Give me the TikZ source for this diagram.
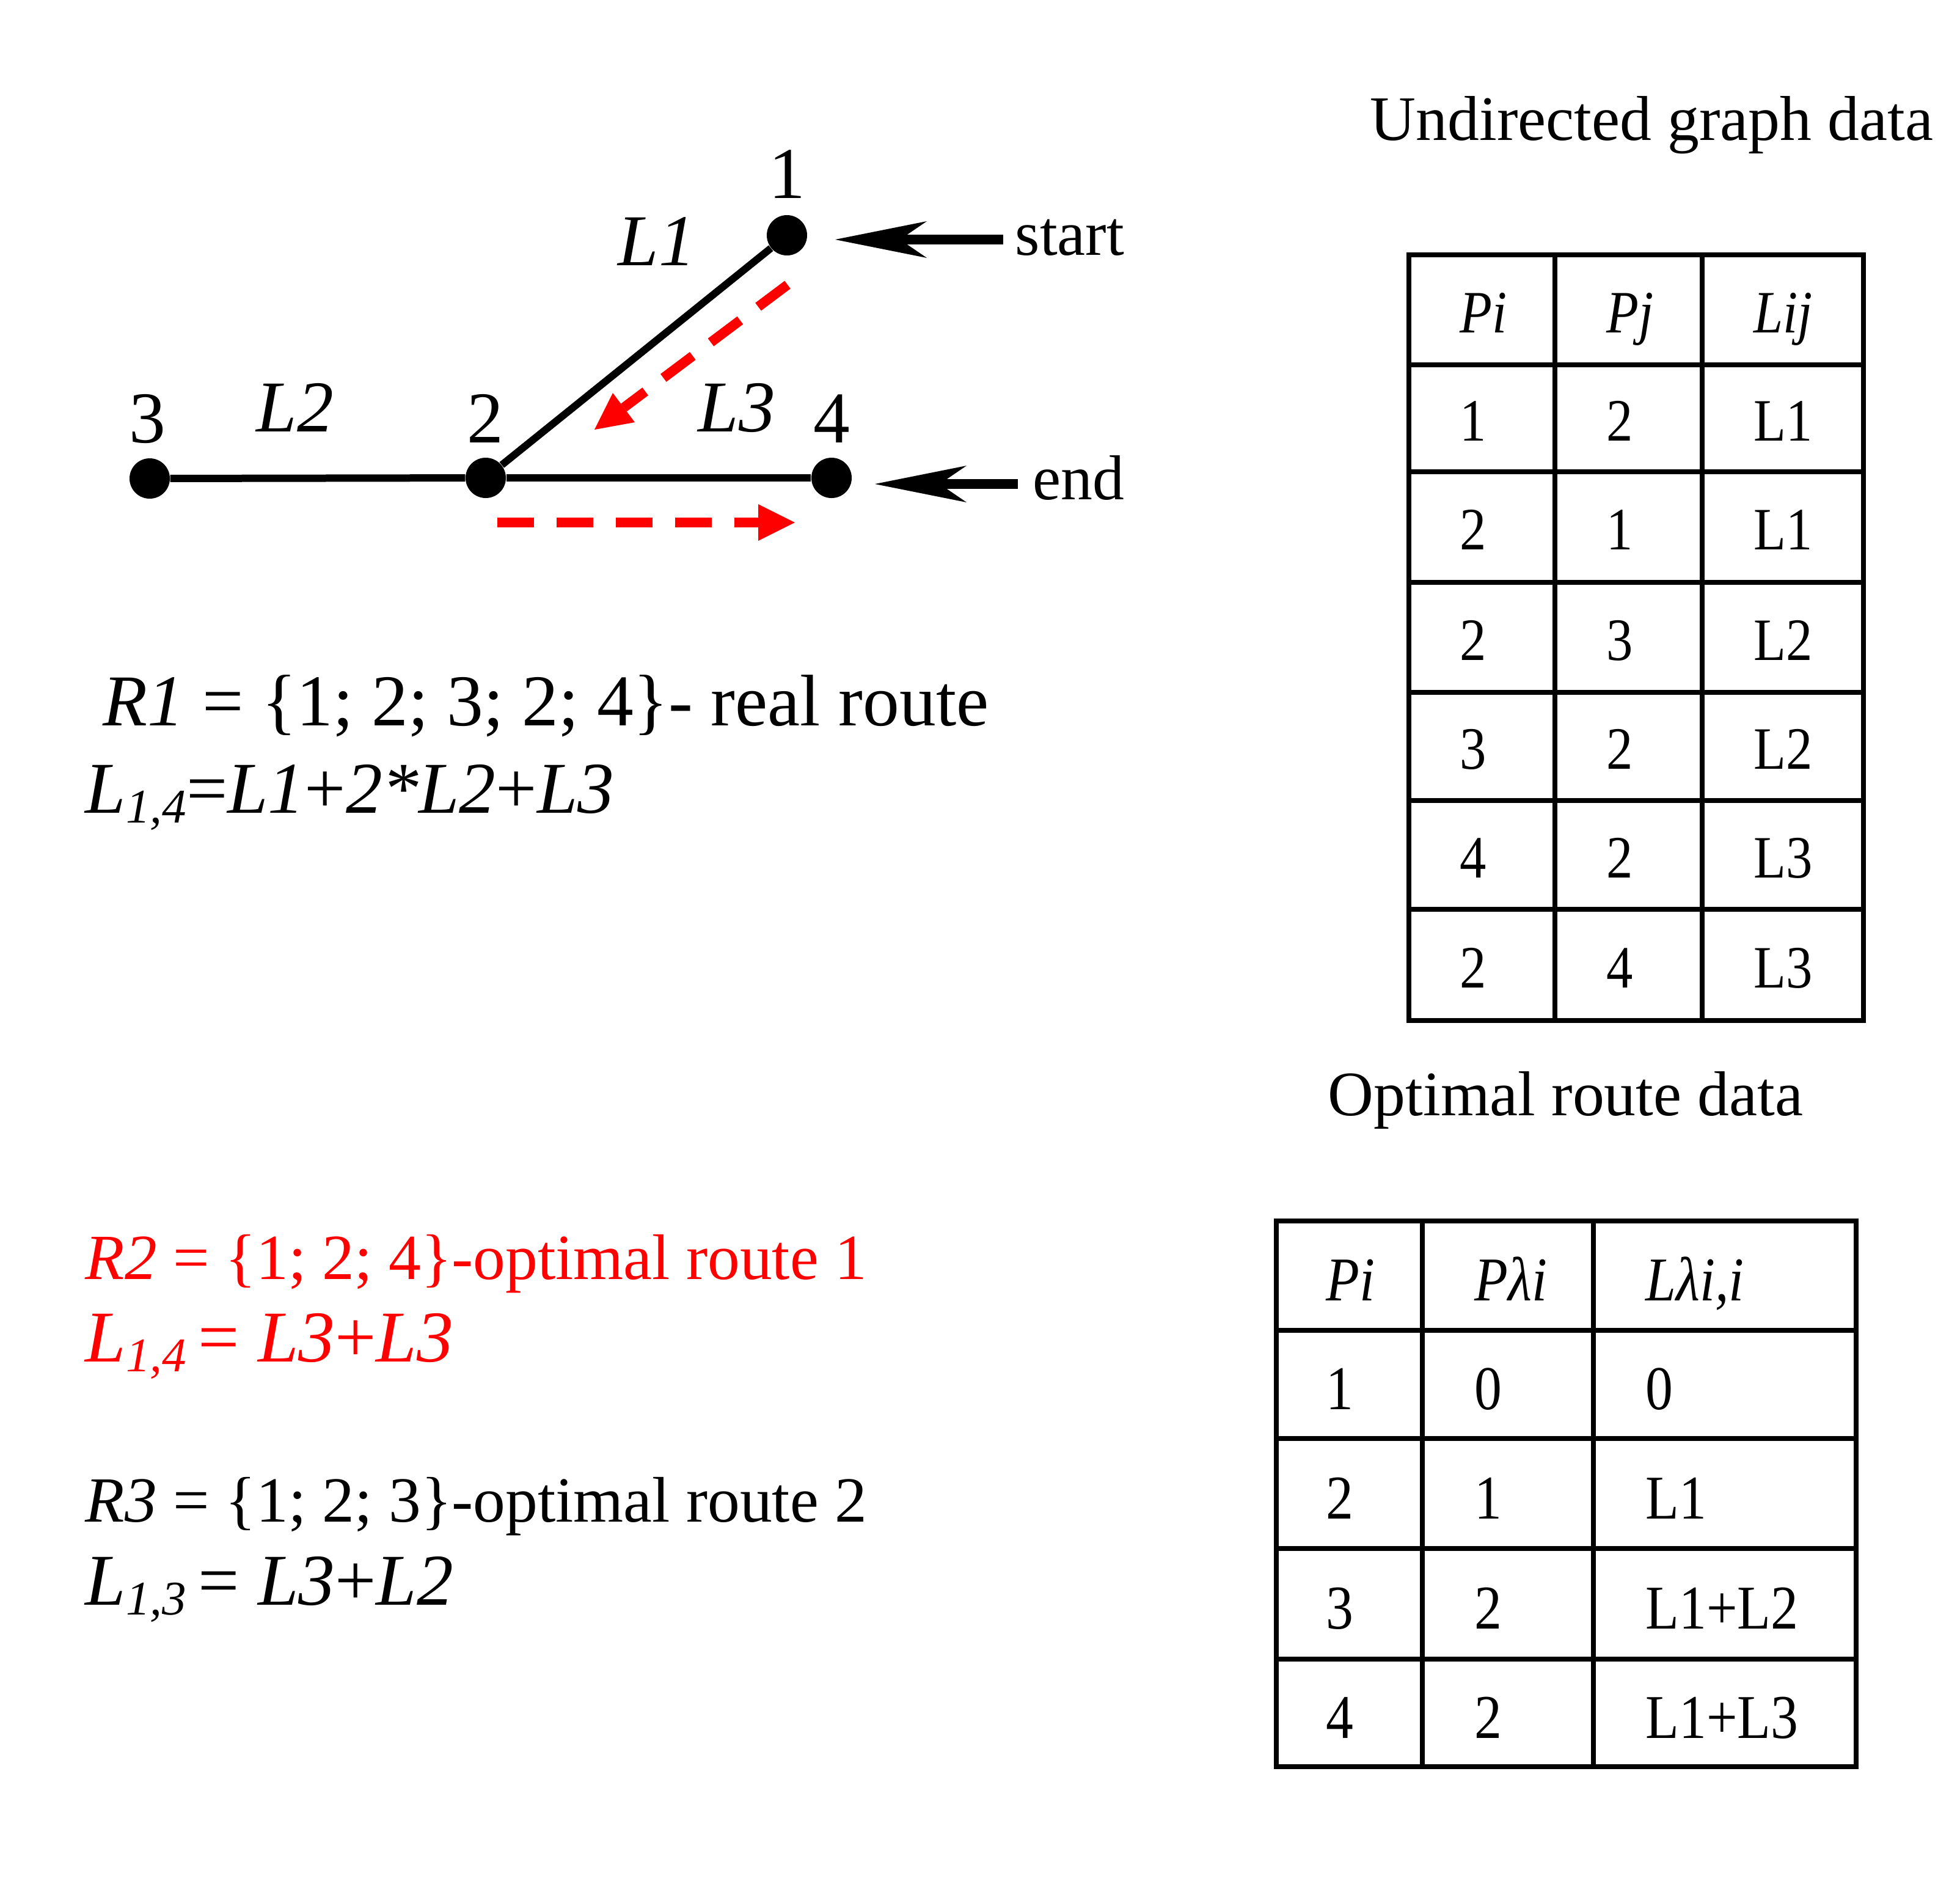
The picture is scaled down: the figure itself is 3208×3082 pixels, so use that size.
\documentclass[tikz,border=0pt]{standalone}
\usepackage{fontspec}
\setmainfont{Liberation Serif}
\newfontfamily\tabfont[FakeStretch=0.88]{Liberation Serif}
\usetikzlibrary{arrows.meta}
\definecolor{refred}{RGB}{255,0,0}
\newcommand\fbig{\fontsize{34pt}{40pt}\selectfont}
\newcommand\froute{\fontsize{30pt}{36pt}\selectfont}
\newcommand\fmid{\fontsize{29.5pt}{35pt}\selectfont}
\newcommand\ftab{\tabfont\fontsize{28pt}{33pt}\selectfont}
\newcommand\ftabb{\tabfont\fontsize{29pt}{34pt}\selectfont}
\newcommand\lsub[1]{\raisebox{-0.14em}{\fontsize{22.5pt}{24pt}\selectfont\itshape #1}}
\begin{document}
\begin{tikzpicture}[x=0.1mm,y=-0.1mm,
  edge/.style={line width=1.2mm},
  dot/.style={circle,fill=black,inner sep=0pt,minimum size=6.6mm},
  lbl/.style={font=\fbig,inner sep=0pt,anchor=base},
  txt/.style={font=\fbig,inner sep=0pt,anchor=base west},
  rtxt/.style={font=\froute,inner sep=0pt,anchor=base west},
  ttl/.style={font=\fmid,inner sep=0pt,anchor=base west},
  tcell/.style={font=\ftab,inner sep=0pt,anchor=base west},
  tcellb/.style={font=\ftabb,inner sep=0pt,anchor=base west},
  bigarrow/.style={line width=1.6mm,-{Stealth[length=15mm,width=6mm,inset=4.4mm,line width=0pt]}},
  redarrow/.style={draw=refred,line width=1.6mm,dash pattern=on 6mm off 3.7mm,
    -{Triangle[length=6mm,width=6mm,line width=0pt,fill=refred]}},
  gridline/.style={line width=0.8mm,line cap=rect}]
\useasboundingbox (0,0) rectangle (3208,3082);

% ---- graph ----
\node[dot] (n1) at (1288,385) {};
\node[dot] (n2) at (795,782) {};
\node[dot] (n3) at (245,783) {};
\node[dot] (n4) at (1361,782) {};
\draw[edge] (n3) -- (n2);
\draw[edge] (n2) -- (n4);
\draw[edge] (n1) -- (n2);

\node[lbl] (t1) at (1288,324) {1};
\node[lbl] (t3) at (241,724) {3};
\node[lbl] (t2) at (794,724) {2};
\node[lbl] (t4) at (1361,724) {4};
\node[txt] (l1) at (1011,434) {\itshape L1};
\node[txt] (l2) at (419,706) {\itshape L2};
\node[txt] (l3) at (1142,706) {\itshape L3};

% red route arrows
\coordinate (ra1) at (1289,466);
\coordinate (ra2) at (973,703);
\draw[redarrow] (ra1) -- (ra2);
\coordinate (rb1) at (814,855);
\coordinate (rb2) at (1301,855);
\draw[redarrow] (rb1) -- (rb2);

% start / end arrows
\node[ttl] (lstart) at (1661,417) {start};
\node[ttl] (lend) at (1690,817) {end};
\coordinate (sa1) at (1642,392);
\coordinate (sa2) at (1367,392);
\draw[bigarrow] (sa1) -- (sa2);
\coordinate (ea1) at (1666,792);
\coordinate (ea2) at (1432,792);
\draw[bigarrow] (ea1) -- (ea2);

% ---- route texts ----
\node[txt] (r1) at (168,1187) {\textit{R1} = \{1; 2; 3; 2; 4\}- real route};
\node[txt] (r1l) at (139,1330) {\textit{L}\lsub{1,4}=\textit{L1}+\textit{2*L2}+\textit{L3}};
\node[rtxt,text=refred] (r2) at (139,2093) {\textit{R2} = \{1; 2; 4\}-optimal route 1};
\node[txt,text=refred] (r2l) at (139,2228) {\textit{L}\lsub{1,4}\,= \textit{L3}+\textit{L3}};
\node[rtxt] (r3) at (139,2490) {\textit{R3} = \{1; 2; 3\}-optimal route 2};
\node[txt] (r3l) at (139,2626) {\textit{L}\lsub{1,3}\,= \textit{L3}+\textit{L2}};

% ---- titles ----
\node[ttl] (ttl1) at (2242,229) {Undirected graph data};
\node[ttl] (ttl2) at (2173,1825) {Optimal route data};

% ---- table 1 ----
\foreach \xx in {2306,2545,2786,3050} \draw[gridline] (\xx,417) -- (\xx,1670);
\foreach \yy in {417,597,772,953,1133,1310,1488,1670} \draw[gridline] (2306,\yy) -- (3050,\yy);
\node[tcell] (a01) at (2389,544) {\itshape Pi};
\node[tcell] (a02) at (2629,544) {\itshape Pj};
\node[tcell] (a03) at (2870,544) {\itshape Lij};
\node[tcell] (a11) at (2389,721.5) {1};
\node[tcell] (a12) at (2629,721.5) {2};
\node[tcell] (a13) at (2870,721.5) {L1};
\node[tcell] (a21) at (2389,899.5) {2};
\node[tcell] (a22) at (2629,899.5) {1};
\node[tcell] (a23) at (2870,899.5) {L1};
\node[tcell] (a31) at (2389,1080) {2};
\node[tcell] (a32) at (2629,1080) {3};
\node[tcell] (a33) at (2870,1080) {L2};
\node[tcell] (a41) at (2389,1258.5) {3};
\node[tcell] (a42) at (2629,1258.5) {2};
\node[tcell] (a43) at (2870,1258.5) {L2};
\node[tcell] (a51) at (2389,1436) {4};
\node[tcell] (a52) at (2629,1436) {2};
\node[tcell] (a53) at (2870,1436) {L3};
\node[tcell] (a61) at (2389,1616) {2};
\node[tcell] (a62) at (2629,1616) {4};
\node[tcell] (a63) at (2870,1616) {L3};

% ---- table 2 ----
\foreach \xx in {2089,2328,2608,3038} \draw[gridline] (\xx,1998) -- (\xx,2891);
\foreach \yy in {1998,2177,2354,2534,2715,2891} \draw[gridline] (2089,\yy) -- (3038,\yy);
\node[tcellb] (b01) at (2170,2128.5) {\itshape Pi};
\node[tcellb] (b02) at (2413,2128.5) {\itshape Pλi};
\node[tcellb] (b03) at (2693,2128.5) {\itshape Lλi,i};
\node[tcellb] (b11) at (2170,2306.5) {1};
\node[tcellb] (b12) at (2413,2306.5) {0};
\node[tcellb] (b13) at (2693,2306.5) {0};
\node[tcellb] (b21) at (2170,2485) {2};
\node[tcellb] (b22) at (2413,2485) {1};
\node[tcellb] (b23) at (2693,2485) {L1};
\node[tcellb] (b31) at (2170,2665.5) {3};
\node[tcellb] (b32) at (2413,2665.5) {2};
\node[tcellb] (b33) at (2693,2665.5) {L1+L2};
\node[tcellb] (b41) at (2170,2844) {4};
\node[tcellb] (b42) at (2413,2844) {2};
\node[tcellb] (b43) at (2693,2844) {L1+L3};
\end{tikzpicture}
\end{document}
